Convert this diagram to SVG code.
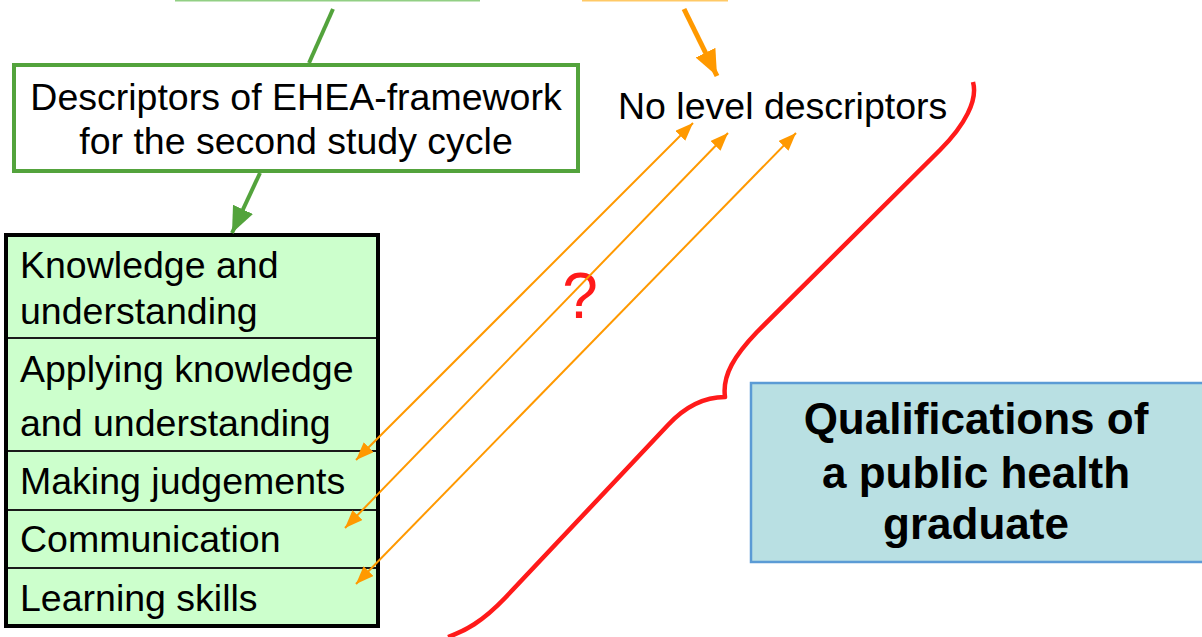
<svg xmlns="http://www.w3.org/2000/svg" width="1202" height="637" viewBox="0 0 1202 637">
<style>
text{font-family:"Liberation Sans",Arial,sans-serif;fill:#000}
.t{font-size:37.5px}
.c{text-anchor:middle}
.b{font-weight:bold;font-size:44px}
.o{stroke:#ff9900;stroke-width:2;fill:none}
</style>
<defs>
<marker id="ao" markerUnits="userSpaceOnUse" markerWidth="20" markerHeight="16" refX="18" refY="7" orient="auto-start-reverse"><path d="M0,0 L18,7 L0,14 z" fill="#ff9900"/></marker>
<marker id="aoL" markerUnits="userSpaceOnUse" markerWidth="28" markerHeight="24" refX="26" refY="11" orient="auto"><path d="M0,0 L26,11 L0,22 z" fill="#ff9900"/></marker>
<marker id="ag" markerUnits="userSpaceOnUse" markerWidth="28" markerHeight="24" refX="26" refY="11" orient="auto"><path d="M0,0 L26,11 L0,22 z" fill="#53a33c"/></marker>
</defs>
<rect width="1202" height="637" fill="#fff"/>
<g id="top-partial">
<line x1="175" y1="0.5" x2="480" y2="0.5" stroke="#92cf84" stroke-width="2"/>
<line x1="582" y1="0.5" x2="728" y2="0.5" stroke="#ffc966" stroke-width="2"/>
</g>
<g id="ehea">
<rect x="14" y="65" width="564" height="106" fill="#fff" stroke="#53a33c" stroke-width="4"/>
<text class="c" x="296" y="110" style="font-size:37.5px">Descriptors of EHEA-framework</text>
<text class="c" x="296" y="154" style="font-size:37.5px">for the second study cycle</text>
</g>
<g id="nolevel">
<text x="618" y="119" style="font-size:37.5px">No level descriptors</text>
</g>
<g id="descriptors">
<rect x="6" y="235" width="372" height="391" fill="#ccffcc" stroke="#000" stroke-width="4"/>
<g stroke="#1a1a1a" stroke-width="2">
<line x1="8" y1="338" x2="376" y2="338"/>
<line x1="8" y1="451" x2="376" y2="451"/>
<line x1="8" y1="510" x2="376" y2="510"/>
<line x1="8" y1="568" x2="376" y2="568"/>
</g>
<text class="t" x="20" y="278">Knowledge and</text>
<text class="t" x="20" y="324">understanding</text>
<text class="t" x="20" y="382">Applying knowledge</text>
<text class="t" x="20" y="436">and understanding</text>
<text class="t" x="20" y="494">Making judgements</text>
<text class="t" x="20" y="552">Communication</text>
<text class="t" x="20" y="611">Learning skills</text>
</g>
<g id="question">
<text x="580" y="318" style="font-size:64px;fill:#ff1a1a;text-anchor:middle">?</text>
</g>
<g id="qualifications">
<rect x="751" y="383" width="453" height="179" fill="#b9e0e3" stroke="#5b9bd5" stroke-width="2.5"/>
<text class="b c" x="976" y="434">Qualifications of</text>
<text class="b c" x="976" y="488">a public health</text>
<text class="b c" x="976" y="539">graduate</text>
</g>
<g id="connectors">
<line x1="333" y1="9" x2="309" y2="63" stroke="#53a33c" stroke-width="4"/>
<line x1="260" y1="173" x2="232" y2="233" stroke="#53a33c" stroke-width="4" marker-end="url(#ag)"/>
<line x1="684" y1="9" x2="717" y2="76" stroke="#ff9900" stroke-width="5" marker-end="url(#aoL)"/>
<line class="o" x1="356" y1="460" x2="693" y2="123" marker-start="url(#ao)" marker-end="url(#ao)"/>
<line class="o" x1="345" y1="528" x2="728" y2="133" marker-start="url(#ao)" marker-end="url(#ao)"/>
<line class="o" x1="356" y1="584" x2="796" y2="133" marker-start="url(#ao)" marker-end="url(#ao)"/>
<path d="M973,82 C978,100 965,125 940,150 L757,332 C735,355 722,375 725,397 C700,397 682,410 668,425 L505,598 C482,622 465,631 448,637" fill="none" stroke="#ff1a1a" stroke-width="4.5" stroke-linejoin="round"/>
</g>
</svg>
